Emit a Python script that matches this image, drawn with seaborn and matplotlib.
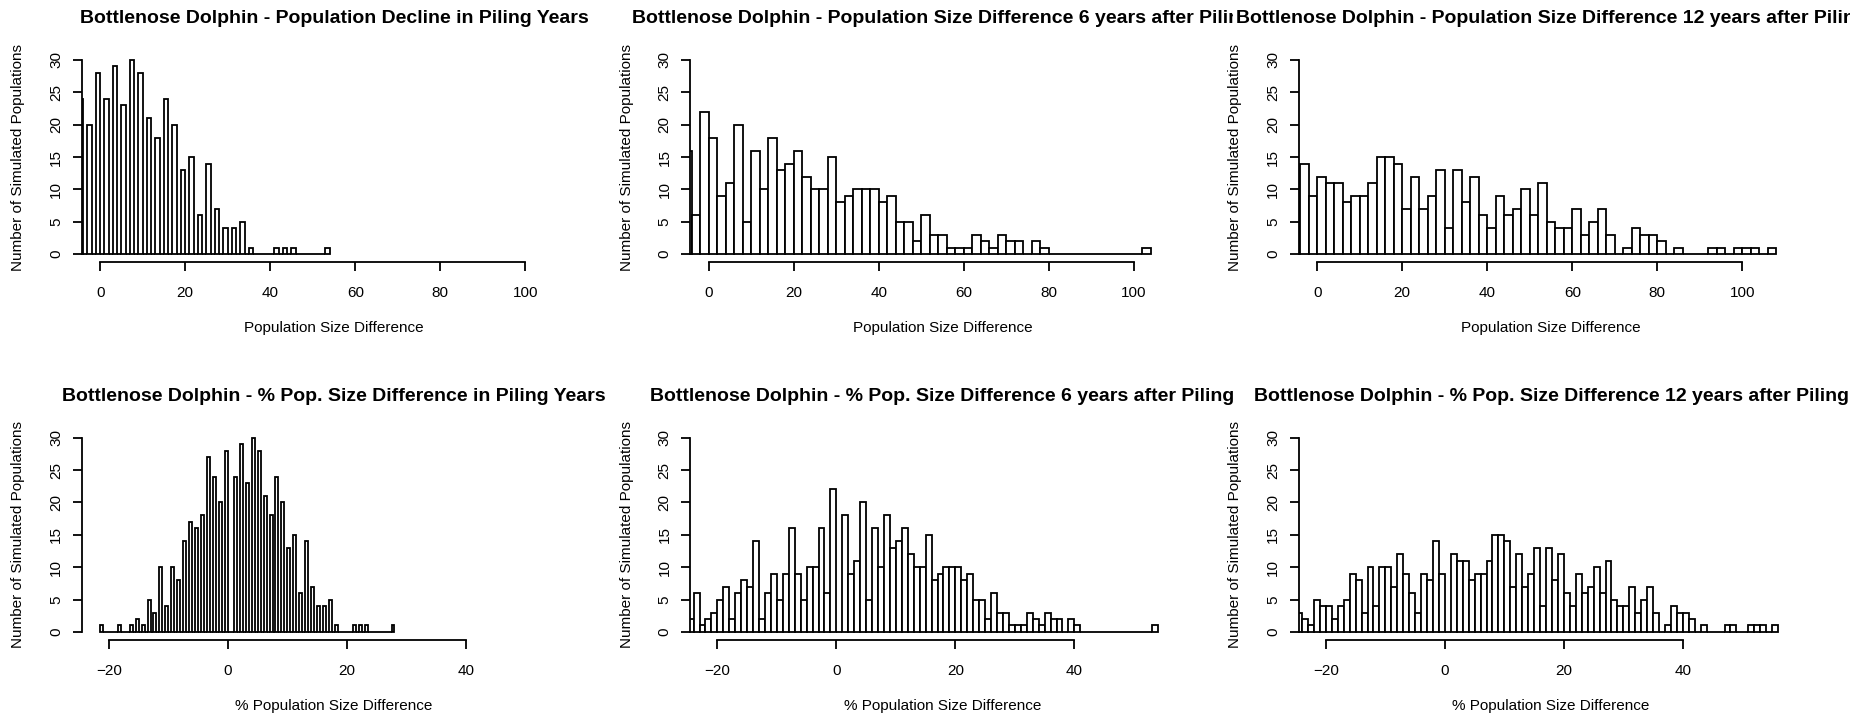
import numpy as np
import pandas as pd
import matplotlib
matplotlib.use("Agg")
import matplotlib.pyplot as plt
from matplotlib.transforms import Bbox, TransformedBbox
import seaborn as sns

# ---------------------------------------------------------------------------
# Histogram data (500 simulated populations): bin midpoints and counts.
# Breaks are given as (first break, last break, bin width).
# ---------------------------------------------------------------------------

# Population size difference, piling years
piling_mids = [-4.5, -2.5, -0.5, 1.5, 3.5, 5.5, 7.5, 9.5, 11.5, 13.5, 15.5, 17.5,
               19.5, 21.5, 23.5, 25.5, 27.5, 29.5, 31.5, 33.5, 35.5, 41.5, 43.5,
               45.5, 53.5]
piling_counts = [24, 20, 28, 24, 29, 23, 30, 28, 21, 18, 24, 20,
                 13, 15, 6, 14, 7, 4, 4, 5, 1, 1, 1,
                 1, 1]
piling_breaks = (-5, 54, 1)

# Population size difference, 6 years after piling
after6_mids = [-5, -3, -1, 1, 3, 5, 7, 9, 11, 13, 15, 17, 19, 21, 23, 25, 27, 29,
               31, 33, 35, 37, 39, 41, 43, 45, 47, 49, 51, 53, 55, 57, 59, 61, 63,
               65, 67, 69, 71, 73, 77, 79, 103]
after6_counts = [16, 6, 22, 18, 9, 11, 20, 5, 16, 10, 18, 13, 14, 16, 12, 10, 10, 15,
                 8, 9, 10, 10, 10, 8, 9, 5, 5, 2, 6, 3, 3, 1, 1, 1, 3,
                 2, 1, 3, 2, 2, 2, 1, 1]
after6_breaks = (-6, 104, 2)

# Population size difference, 12 years after piling
after12_mids = [-5, -3, -1, 1, 3, 5, 7, 9, 11, 13, 15, 17, 19, 21, 23, 25, 27, 29,
                31, 33, 35, 37, 39, 41, 43, 45, 47, 49, 51, 53, 55, 57, 59, 61, 63,
                65, 67, 69, 73, 75, 77, 79, 81, 85, 93, 95, 99, 101, 103, 107]
after12_counts = [8, 14, 9, 12, 11, 11, 8, 9, 9, 11, 15, 15, 14, 7, 12, 7, 9, 13,
                  4, 13, 8, 12, 6, 4, 9, 6, 7, 10, 6, 11, 5, 4, 4, 7, 3,
                  5, 7, 3, 1, 4, 3, 3, 2, 1, 1, 1, 1, 1, 1, 1]
after12_breaks = (-6, 108, 2)

# % population size difference, piling years
pct_piling_mids = [-21.25, -18.25, -16.25, -15.25, -14.25, -13.25, -12.25, -11.25,
                   -10.25, -9.25, -8.25, -7.25, -6.25, -5.25, -4.25, -3.25, -2.25,
                   -1.25, -0.25, 1.25, 2.25, 3.25, 4.25, 5.25, 6.25, 7.25, 8.25,
                   9.25, 10.25, 11.25, 12.25, 13.25, 14.25, 15.25, 16.25, 17.25,
                   18.25, 21.25, 22.25, 23.25, 27.75]
pct_piling_counts = [1, 1, 1, 2, 1, 5, 3, 10,
                     4, 10, 8, 14, 17, 16, 18, 27, 24,
                     20, 28, 24, 29, 23, 30, 28, 21, 18, 24,
                     20, 13, 15, 6, 14, 7, 4, 4, 5,
                     1, 1, 1, 1, 1]
pct_piling_breaks = (-21.5, 28, 0.5)

# % population size difference, 6 years after piling
pct_after6_mids = [-24.5, -23.5, -22.5, -21.5, -20.5, -19.5, -18.5, -17.5, -16.5,
                   -15.5, -14.5, -13.5, -12.5, -11.5, -10.5, -9.5, -8.5, -7.5,
                   -6.5, -5.5, -4.5, -3.5, -2.5, -1.5, -0.5,
                   1.5, 2.5, 3.5, 4.5, 5.5, 6.5, 7.5, 8.5, 9.5, 10.5, 11.5, 12.5,
                   13.5, 14.5, 15.5, 16.5, 17.5, 18.5, 19.5, 20.5, 21.5, 22.5, 23.5,
                   24.5, 25.5, 26.5, 27.5, 28.5, 29.5, 30.5, 31.5, 32.5, 33.5, 34.5,
                   35.5, 36.5, 37.5, 39.5, 40.5, 53.5]
pct_after6_counts = [2, 6, 1, 2, 3, 5, 7, 2, 6,
                     8, 7, 14, 2, 6, 9, 5, 9, 16,
                     9, 5, 10, 10, 16, 6, 22,
                     18, 9, 11, 20, 5, 16, 10, 18, 13, 14, 16, 12,
                     10, 10, 15, 8, 9, 10, 10, 10, 8, 9, 5,
                     5, 2, 6, 3, 3, 1, 1, 1, 3, 2, 1,
                     3, 2, 2, 2, 1, 1]
pct_after6_breaks = (-25, 54, 1)

# % population size difference, 12 years after piling
pct_after12_mids = [-24.5, -23.5, -22.5, -21.5, -20.5, -19.5, -18.5, -17.5, -16.5,
                    -15.5, -14.5, -13.5, -12.5, -11.5, -10.5, -9.5, -8.5, -7.5,
                    -6.5, -5.5, -4.5, -3.5, -2.5, -1.5, -0.5,
                    1.5, 2.5, 3.5, 4.5, 5.5, 6.5, 7.5, 8.5, 9.5, 10.5, 11.5, 12.5,
                    13.5, 14.5, 15.5, 16.5, 17.5, 18.5, 19.5, 20.5, 21.5, 22.5, 23.5,
                    24.5, 25.5, 26.5, 27.5, 28.5, 29.5, 30.5, 31.5, 32.5, 33.5, 34.5,
                    35.5, 37.5, 38.5, 39.5, 40.5, 41.5, 43.5, 47.5, 48.5, 51.5, 52.5,
                    53.5, 55.5]
pct_after12_counts = [3, 2, 1, 5, 4, 4, 2, 4, 5,
                      9, 8, 3, 10, 4, 10, 10, 7, 12,
                      9, 6, 3, 9, 8, 14, 9,
                      12, 11, 11, 8, 9, 9, 11, 15, 15, 14, 7, 12,
                      7, 9, 13, 4, 13, 8, 12, 6, 4, 9, 6,
                      7, 10, 6, 11, 5, 4, 4, 7, 3, 5, 7,
                      3, 1, 4, 3, 3, 2, 1, 1, 1, 1, 1,
                      1, 1]
pct_after12_breaks = (-25, 56, 1)

titles = [
    "Bottlenose Dolphin - Population Decline in Piling Years",
    "Bottlenose Dolphin - Population Size Difference 6 years after Piling",
    "Bottlenose Dolphin - Population Size Difference 12 years after Piling",
    "Bottlenose Dolphin - % Pop. Size Difference in Piling Years",
    "Bottlenose Dolphin - % Pop. Size Difference 6 years after Piling",
    "Bottlenose Dolphin - % Pop. Size Difference 12 years after Piling",
]
x_labels = ["Population Size Difference", "% Population Size Difference"]
y_label = "Number of Simulated Populations"
count_ticks = [0, 5, 10, 15, 20, 25, 30]
size_ticks = [0, 20, 40, 60, 80, 100]
pct_ticks = [-20, 0, 20, 40]

panels = [
    (piling_mids, piling_counts, piling_breaks),
    (after6_mids, after6_counts, after6_breaks),
    (after12_mids, after12_counts, after12_breaks),
    (pct_piling_mids, pct_piling_counts, pct_piling_breaks),
    (pct_after6_mids, pct_after6_counts, pct_after6_breaks),
    (pct_after12_mids, pct_after12_counts, pct_after12_breaks),
]

# ---------------------------------------------------------------------------
# Style
# ---------------------------------------------------------------------------
sns.set_style("ticks", {
    "axes.edgecolor": "black",
    "xtick.color": "black",
    "ytick.color": "black",
    "text.color": "black",
    "axes.labelcolor": "black",
})
plt.rcParams["font.family"] = ["Liberation Sans", "DejaVu Sans"]

W, H = 1850, 717
fig = plt.figure(figsize=(W / 100, H / 100), dpi=100)
fig.patch.set_facecolor("white")

COL_LEFT = [81.5, 690.0, 1298.5]   # px, left edge of each plot region
COL_W = 505.0
ROW_TOP = [52.2, 429.9]            # px from top
ROW_H = 209.8
TITLE_BASE = 29.0                  # px from plot top up to title baseline
LW = 1.3
PX = 0.72                          # points per pixel at 100 dpi
LABEL_FS = 11
TITLE_FS = 14

row_xlim = [(-4.4, 114.4), (-24.6, 60.27)]
row_ticks = [size_ticks, pct_ticks]

for i, (mids, counts, (lo, hi, width)) in enumerate(panels):
    r, c = divmod(i, 3)
    left, top = COL_LEFT[c], ROW_TOP[r]
    ax = fig.add_axes([left / W, 1 - (top + ROW_H) / H, COL_W / W, ROW_H / H])
    ax.patch.set_alpha(0)

    df = pd.DataFrame({"value": mids, "n": counts})
    edges = [float(e) for e in np.arange(lo, hi + width / 2, width)]
    sns.histplot(data=df, x="value", weights="n", bins=edges, ax=ax, stat="count",
                 element="bars", fill=True, color="white", edgecolor="black",
                 linewidth=LW, alpha=1.0)

    ax.set_xlim(*row_xlim[r])
    ax.set_ylim(-1.2, 31.2)
    ax.set_xticks(row_ticks[r])
    ax.set_yticks(count_ticks)
    ax.set_xlabel("")
    ax.set_ylabel("")

    for side in ("top", "right"):
        ax.spines[side].set_visible(False)
    ax.spines["left"].set_bounds(0, 30)
    ax.spines["bottom"].set_bounds(row_ticks[r][0], row_ticks[r][-1])
    for side in ("left", "bottom"):
        ax.spines[side].set_linewidth(LW)

    ax.tick_params(direction="out", length=6.4, width=LW,
                   labelsize=LABEL_FS, colors="black")
    ax.tick_params(axis="x", pad=10.8)
    ax.tick_params(axis="y", pad=6.8, labelrotation=90)
    for lbl in ax.get_yticklabels():
        lbl.set_va("center")

    ax.annotate(x_labels[r], xy=(0.5, 0), xycoords="axes fraction",
                xytext=(0, -66 * PX), textcoords="offset points",
                ha="center", va="center", fontsize=LABEL_FS)
    ax.annotate(y_label, xy=(0, 0.5), xycoords="axes fraction",
                xytext=(-63.5 * PX, 0), textcoords="offset points",
                ha="center", va="center", rotation=90, fontsize=LABEL_FS)

    # Title centred over the plot region, clipped to its own column of the figure
    t = fig.text((left + COL_W / 2) / W, 1 - (top - TITLE_BASE) / H, titles[i],
                 ha="center", va="baseline", fontsize=TITLE_FS, fontweight="bold")
    t.set_clip_box(TransformedBbox(Bbox.from_extents(c / 3, 0, (c + 1) / 3, 1),
                                   fig.transFigure))
    t.set_clip_on(True)

fig.savefig("out.png", dpi=100, facecolor="white")
